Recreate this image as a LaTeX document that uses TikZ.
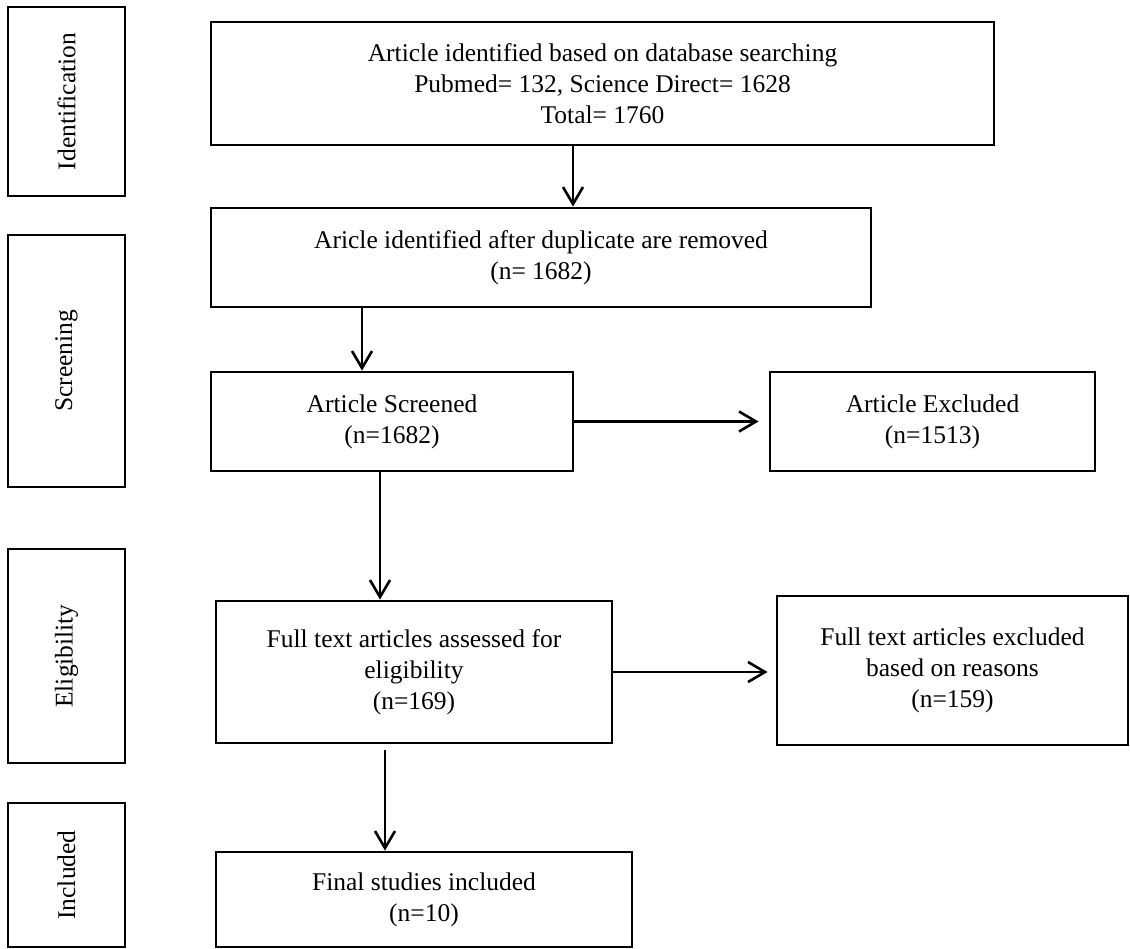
\documentclass[tikz,border=0pt]{standalone}
\usepackage{fontspec}
\setmainfont{Liberation Serif}
\usetikzlibrary{arrows.meta,positioning,calc}
\newcommand\boxfont{\fontsize{12.75}{15.5}\selectfont}

\begin{document}
\begin{tikzpicture}[x=0.5pt,y=-0.5pt,
    stage/.style={draw, line width=1.4pt, align=center, inner sep=2pt, font=\boxfont},
    flow/.style={line width=1.3pt, -{Straight Barb[length=8.5pt,width=10pt]}}]
\useasboundingbox (0,0) rectangle (1130,948);

    % Phase labels
    \foreach \i/\y/\h/\txt in {1/101.5/94.5/Identification, 2/361/126/Screening,
                               3/656/107/Eligibility, 4/875/72/Included} {
        \node[stage, rotate=90, minimum width=\h pt, minimum height=58.5pt] (p\i) at (66.5,\y) {\txt};
    }

    % Main boxes
    \node[stage, minimum width=391.5pt, minimum height=61.5pt] (ident) at (602.5,83.5)
        {Article identified based on database searching\\Pubmed= 132, Science Direct= 1628\\Total= 1760};
    \node[stage, minimum width=330pt, minimum height=49.5pt] (dup) at (541,257.5)
        {Aricle identified after duplicate are removed\\(n= 1682)};
    \node[stage, minimum width=181pt, minimum height=49.5pt] (screen) at (392,421.5)
        {Article Screened\\(n=1682)};
    \node[stage, minimum width=162.5pt, minimum height=49.5pt] (excl) at (932.5,421.5)
        {Article Excluded\\(n=1513)};
    \node[stage, minimum width=198pt, minimum height=71pt] (full) at (414,672)
        {Full text articles assessed for\\eligibility\\(n=169)};
    \node[stage, minimum width=175.5pt, minimum height=74.5pt] (fullex) at (952.5,670.5)
        {Full text articles excluded\\based on reasons\\(n=159)};
    \node[stage, minimum width=208pt, minimum height=47.5pt] (final) at (424,899.5)
        {Final studies included\\(n=10)};

    % Arrows
    \coordinate (c1) at (573,0);
    \coordinate (c2) at (362,0);
    \coordinate (c3) at (380,0);
    \coordinate (c4) at (385,0);
    \draw[flow] (ident.south -| c1) -- (dup.north -| c1);
    \draw[flow] (dup.south -| c2) -- (screen.north -| c2);
    \draw[flow] (screen.south -| c3) -- (full.north -| c3);
    \draw[flow, shorten <=3pt] (full.south -| c4) -- (final.north -| c4);
    \draw[flow, shorten >=5pt] (screen.east) -- (excl.west);
    \draw[flow, shorten >=4pt] (full.east) -- (full.east -| fullex.west);
\end{tikzpicture}
\end{document}
